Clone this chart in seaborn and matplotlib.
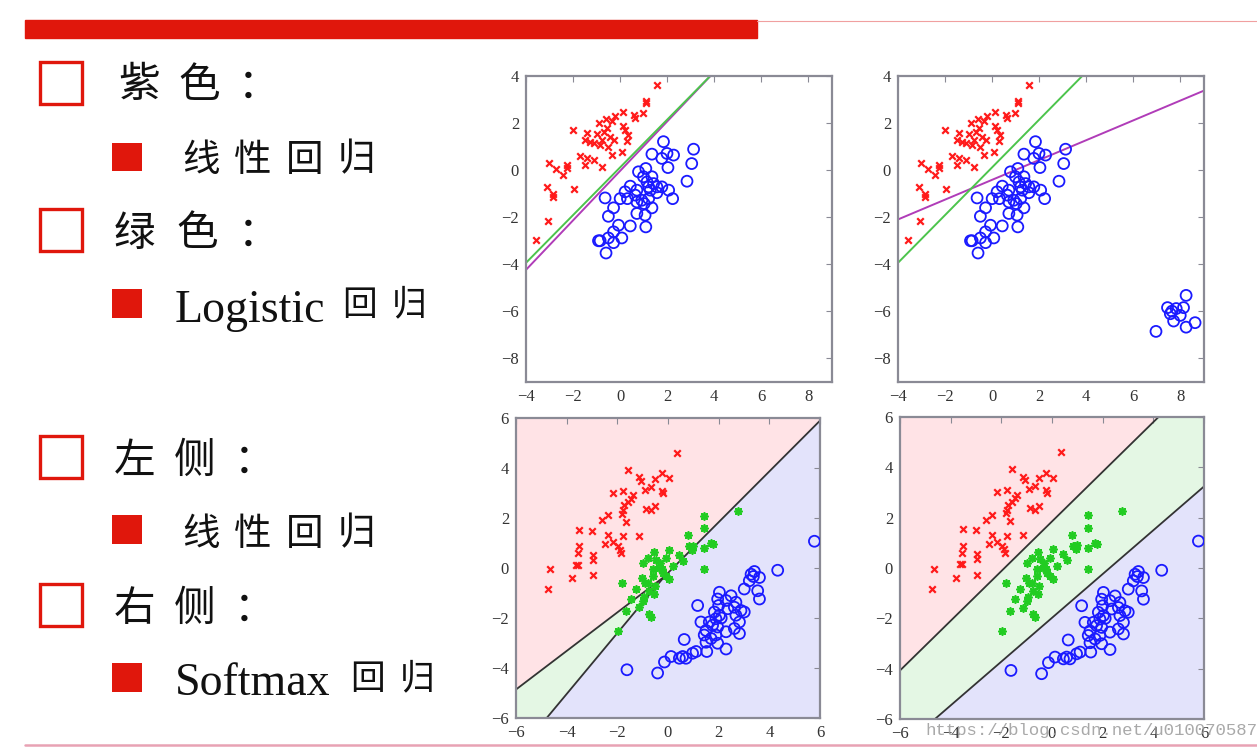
import numpy as np
import pandas as pd
import matplotlib
matplotlib.use("Agg")
import matplotlib.pyplot as plt
from matplotlib.patches import Rectangle
from matplotlib.lines import Line2D
import seaborn as sns

# ---------------- data ----------------
# top row (two classes), same points in both panels
top_red_x = [1.56, 1.09, 1.09, 0.14, 0.57, 0.64, 0.96, -0.62, -0.33, 0.10, 0.21, -2.01, -1.39, -0.99,
             -0.57, -0.78, -0.28, -1.49, -1.28, -0.85, -0.52, 0.28, 0.07, -0.35, -1.70, -1.42, -1.11,
             -1.49, -0.78, -2.27, -2.27, -3.01, -2.72, -2.41, -3.12, -2.84, -2.84, -1.96, -3.57, -3.05,
             -0.70, -0.45, -1.10, -0.20, -0.90, 0.35]
top_red_y = [3.62, 2.95, 2.85, 2.48, 2.34, 2.20, 2.44, 2.17, 2.08, 1.87, 1.70, 1.70, 1.56, 1.53,
             1.77, 1.28, 1.28, 1.28, 1.21, 1.06, 0.99, 1.25, 0.78, 0.64, 0.61, 0.50, 0.43,
             0.21, 0.14, 0.21, 0.11, 0.31, 0.03, -0.21, -0.71, -1.00, -1.13, -0.81, -2.95, -2.17,
             1.60, 1.40, 1.15, 2.30, 2.00, 1.50]
top_blue_x = [1.84, 3.12, 1.35, 1.77, 1.99, 2.27, 3.04, 2.03, 1.09, 0.78, 0.99, 1.35, 1.14, 1.42,
              1.56, 1.21, 1.77, 2.06, 2.84, 0.43, 0.71, 0.21, 1.28, 1.56, 0.64, 0.00, 0.31, 0.92,
              2.23, -0.64, 1.02, 1.35, -0.28, 0.71, 1.06, -0.50, 0.43, -0.07, 1.09, -0.28, 0.07,
              -0.92, -0.85, -0.50, -0.28, -0.60, 0.71, 1.21]
top_blue_y = [1.21, 0.89, 0.68, 0.50, 0.71, 0.64, 0.28, 0.11, 0.07, -0.07, -0.28, -0.28, -0.50, -0.57,
              -0.71, -0.71, -0.71, -0.85, -0.47, -0.68, -0.85, -0.92, -0.85, -0.96, -1.06, -1.21, -1.21, -1.28,
              -1.21, -1.18, -1.42, -1.60, -1.60, -1.84, -1.91, -1.96, -2.37, -2.34, -2.41, -2.62, -2.88,
              -3.00, -3.00, -2.88, -3.08, -3.52, -1.35, -1.21]
# extra far-away blue cluster (top-right panel only)
out_blue_x = [7.45, 8.24, 7.82, 8.13, 7.57, 7.99, 7.71, 8.24, 8.62, 6.96, 7.64]
out_blue_y = [-5.84, -5.32, -5.88, -5.84, -6.10, -6.17, -6.41, -6.67, -6.48, -6.85, -5.99]

# decision lines of the top row: (intercept, slope)
logistic_line = (0.12, 1.014)          # green
linreg_line_left = (-0.03, 1.051)      # purple, left panel
linreg_line_right = (-0.41, 0.421)     # purple, right panel (with outliers)

# bottom row (three classes), same points in both panels
bot_red_x = [0.36, -1.57, -1.13, -1.07, -0.25, -0.51, 0.05, -0.67, -0.91, -0.25, -0.21, -2.18, -1.79,
             -1.39, -1.46, -1.59, -1.72, -1.79, -1.82, -0.87, -0.67, -0.51, -1.66, -2.61, -2.38, -3.50,
             -3.01, -2.38, -1.79, -1.16, -2.49, -2.18, -1.99, -1.89, -1.86, -3.50, -3.57, -2.97, -2.97,
             -3.63, -3.55, -4.66, -3.79, -2.95, -4.72]
bot_red_y = [4.62, 3.93, 3.63, 3.50, 3.79, 3.57, 3.59, 3.24, 3.14, 3.10, 3.00, 3.01, 3.10,
             2.91, 2.78, 2.64, 2.51, 2.32, 2.18, 2.38, 2.32, 2.47, 1.86, 1.92, 2.12, 1.53,
             1.50, 1.33, 1.29, 1.30, 0.97, 1.03, 0.87, 0.74, 0.61, 0.87, 0.61, 0.54, 0.34,
             0.14, 0.14, -0.03, -0.38, -0.28, -0.82]
bot_green_x = [2.78, 1.43, 1.43, 0.78, 1.76, 1.70, 1.43, 0.84, 0.93, 0.45, 0.05, -0.57, -0.80, -0.47,
               -0.08, 0.18, 1.43, -0.25, -0.08, 0.05, -1.04, -0.80, -0.61, -1.00, -1.82, -0.74, -1.26,
               -0.93, -1.00, -1.46, -0.54, -1.66, -1.13, -0.74, -0.67, -1.96, -0.30, -0.35, 0.60, 1.00,
               -0.20, -0.60, -0.90, -0.50]
bot_green_y = [2.28, 2.09, 1.59, 1.33, 0.97, 1.00, 0.80, 0.87, 0.74, 0.54, 0.74, 0.64, 0.41, 0.34,
               0.41, 0.08, -0.05, -0.05, -0.32, -0.45, -0.38, -0.58, -0.05, 0.21, -0.61, -0.91, -0.84,
               -1.17, -1.30, -1.24, -1.04, -1.70, -1.57, -1.83, -1.96, -2.51, 0.20, 0.00, 0.30, 0.90,
               -0.20, -0.30, -0.60, -0.70]
bot_blue_x = [5.78, 4.33, 3.41, 3.28, 3.37, 3.61, 3.21, 3.01, 3.54, 3.61, 2.03, 2.49, 1.96, 2.29, 2.68,
              1.17, 2.62, 2.88, 3.01, 2.68, 2.36, 1.83, 2.03, 1.89, 1.30, 1.63, 1.76, 1.96, 2.82, 2.29,
              2.62, 2.82, 1.43, 1.70, 1.89, 0.64, 1.50, 1.96, 2.29, 1.53, 1.11, 0.97, 0.58, 0.71, 0.45,
              0.12, -0.14, -0.41, -1.62, 2.10, 1.50, 2.00]
bot_blue_y = [1.07, -0.09, -0.14, -0.25, -0.34, -0.38, -0.51, -0.84, -0.91, -1.24, -0.97, -1.11, -1.24,
              -1.30, -1.37, -1.50, -1.57, -1.70, -1.76, -1.89, -1.63, -1.76, -1.89, -2.03, -2.16, -2.16,
              -2.29, -2.36, -2.16, -2.55, -2.42, -2.62, -2.68, -2.82, -2.68, -2.86, -2.97, -3.01, -3.24,
              -3.34, -3.34, -3.41, -3.54, -3.61, -3.61, -3.54, -3.76, -4.20, -4.07, -2.00, -2.50, -1.50]

# class-score boundaries: (red/green intercept, slope, green/blue intercept, slope, k_red, k_blue)
linreg3_params = (-0.234, 0.771, -0.167, 1.218, 0.83, 1.0)
softmax_params = (1.85, 0.987, -1.98, 0.870, 1.0, 1.0)

# ---------------- style ----------------
W, H = 1257, 750
sns.set_theme(style="white")
plt.rcParams["font.family"] = ["Liberation Serif", "Noto Sans CJK SC", "DejaVu Sans"]

RED = "#ff1a1a"
BLUE = "#1a1aff"
GREEN = "#22cc22"
SLIDE_RED = "#e0170c"

fig = plt.figure(figsize=(W / 100, H / 100), dpi=100)
fig.patch.set_facecolor("white")


def fx(x):
    return x / W


def fy(y):
    return 1 - y / H


def make_ax(l, t, r, b):
    return fig.add_axes([fx(l), fy(b), fx(r) - fx(l), (b - t) / H])


def style_ax(ax, xlim, ylim, ticks_x, ticks_y):
    ax.set_xlim(*xlim)
    ax.set_ylim(*ylim)
    ax.set_xticks(ticks_x)
    ax.set_yticks(ticks_y)
    ax.set_xlabel("")
    ax.set_ylabel("")
    ax.tick_params(direction="in", top=True, right=True, length=4, width=0.8,
                   color="#8a8a95", labelsize=12, labelcolor="#333333", pad=5)
    for s in ax.spines.values():
        s.set_color("#8a8a95")
        s.set_linewidth(1.6)
    if ax.get_legend():
        ax.get_legend().remove()


def scatter_red(ax, x, y):
    sns.scatterplot(x=x, y=y, ax=ax, marker="x", color=RED, s=22, linewidth=1.6, zorder=3)


def scatter_blue(ax, x, y):
    ax.scatter(x, y, marker="o", facecolors="none", edgecolors=BLUE, s=62, linewidths=1.3, zorder=3)


def scatter_green(ax, x, y):
    sns.scatterplot(x=x, y=y, ax=ax, marker=(8, 2, 0), color=GREEN, s=26, linewidth=1.3, zorder=3)


def draw_line(ax, params, color, xlim):
    c, m = params
    xs = np.linspace(xlim[0], xlim[1], 200)
    sns.lineplot(x=xs, y=c + m * xs, ax=ax, color=color, linewidth=1.4, zorder=2)


def regions(ax, params):
    c1, m1, c2, m2, k1, k2 = params
    g = np.linspace(-6, 6, 900)
    X, Y = np.meshgrid(g, g)
    s_r = k1 * (Y - c1 - m1 * X)
    s_g = np.zeros_like(X)
    s_b = k2 * (c2 + m2 * X - Y)
    S = np.stack([s_r, s_g, s_b])
    lab = np.argmax(S, axis=0)
    ax.contourf(X, Y, lab, levels=[-0.5, 0.5, 1.5, 2.5],
                colors=["#ffe3e6", "#e4f7e4", "#e3e3fb"], zorder=0)
    for diff, other in [(s_r - s_g, s_b > np.maximum(s_r, s_g)),
                        (s_g - s_b, s_r > np.maximum(s_g, s_b)),
                        (s_r - s_b, s_g > np.maximum(s_r, s_b))]:
        d = np.ma.masked_where(other, diff)
        ax.contour(X, Y, d, levels=[0], colors="#333333", linewidths=1.3, zorder=1)


# ---------------- top row ----------------
tl = make_ax(526, 76, 832, 382)
scatter_red(tl, top_red_x, top_red_y)
scatter_blue(tl, top_blue_x, top_blue_y)
draw_line(tl, linreg_line_left, "#b03cb8", (-4, 9))
draw_line(tl, logistic_line, "#4cc44c", (-4, 9))
style_ax(tl, (-4, 9), (-9, 4), [-4, -2, 0, 2, 4, 6, 8], [-8, -6, -4, -2, 0, 2, 4])

tr = make_ax(898, 76, 1204, 382)
scatter_red(tr, top_red_x, top_red_y)
scatter_blue(tr, top_blue_x + out_blue_x, top_blue_y + out_blue_y)
draw_line(tr, linreg_line_right, "#b03cb8", (-4, 9))
draw_line(tr, logistic_line, "#4cc44c", (-4, 9))
style_ax(tr, (-4, 9), (-9, 4), [-4, -2, 0, 2, 4, 6, 8], [-8, -6, -4, -2, 0, 2, 4])

# ---------------- bottom row ----------------
six = [-6, -4, -2, 0, 2, 4, 6]
bl = make_ax(516, 418, 820, 718)
regions(bl, linreg3_params)
scatter_red(bl, bot_red_x, bot_red_y)
scatter_green(bl, bot_green_x, bot_green_y)
scatter_blue(bl, bot_blue_x, bot_blue_y)
style_ax(bl, (-6, 6), (-6, 6), six, six)

br = make_ax(900, 417, 1204, 719)
regions(br, softmax_params)
scatter_red(br, bot_red_x, bot_red_y)
scatter_green(br, bot_green_x, bot_green_y)
scatter_blue(br, bot_blue_x, bot_blue_y)
style_ax(br, (-6, 6), (-6, 6), six, six)

# ---------------- slide decoration ----------------
fig.add_artist(Rectangle((fx(25), fy(38)), fx(757) - fx(25), (38 - 20) / H,
                         transform=fig.transFigure, color=SLIDE_RED, zorder=1))
fig.add_artist(Line2D([fx(757), fx(1257)], [fy(21), fy(21)], transform=fig.transFigure,
                      color="#f0a0a0", linewidth=0.8))
fig.add_artist(Line2D([fx(25), fx(1257)], [fy(745), fy(745)], transform=fig.transFigure,
                      color="#e8a2b4", linewidth=1.8))

CJK = ["Noto Sans CJK SC", "DejaVu Sans"]


def hollow_box(x, y, s):
    fig.add_artist(Rectangle((fx(x), fy(y + s)), s / W, s / H, transform=fig.transFigure,
                             facecolor="white", edgecolor=SLIDE_RED, linewidth=2.4))


def solid_box(x, y, w, h):
    fig.add_artist(Rectangle((fx(x), fy(y + h)), w / W, h / H, transform=fig.transFigure,
                             facecolor=SLIDE_RED, edgecolor="none"))


def cjk(x0, yc, s, pitch, size):
    for i, ch in enumerate(s):
        fig.text(fx(x0 + i * pitch), fy(yc), ch, fontsize=size, family=CJK,
                 ha="left", va="center", color="#111111")


def latin(x0, ybase, s, size):
    fig.text(fx(x0), fy(ybase), s, fontsize=size, family=["Liberation Serif", "DejaVu Serif"],
             ha="left", va="baseline", color="#111111")


hollow_box(40, 62, 42)
cjk(118, 86, "紫色：", 60, 30)
solid_box(112, 143, 30, 28)
cjk(182, 160, "线性回归", 52, 27)

hollow_box(40, 209, 42)
cjk(114, 234, "绿色：", 62, 30)
solid_box(112, 289, 30, 29)
latin(175, 322, "Logistic", 33)
cjk(342, 305, "回归", 50, 25)

hollow_box(40, 436, 42)
cjk(114, 461, "左侧：", 60, 30)
solid_box(112, 515, 30, 29)
cjk(182, 534, "线性回归", 52, 27)

hollow_box(40, 584, 42)
cjk(114, 609, "右侧：", 60, 30)
solid_box(112, 663, 30, 29)
latin(175, 695, "Softmax", 33)
cjk(350, 679, "回归", 50, 25)

fig.text(fx(925), fy(731), "https://blog.csdn.net/u010070587", fontsize=12.5,
         family=["Liberation Mono", "DejaVu Sans Mono"], color="#9a9a9a", alpha=0.85,
         ha="left", va="center")

fig.savefig("out.png", dpi=100)
